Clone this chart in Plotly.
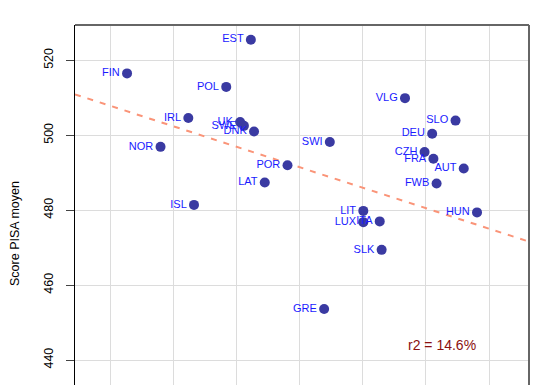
import plotly.graph_objects as go

# Data (x in arbitrary units, grid lines at 1..7)
countries = ["EST", "FIN", "POL", "IRL", "UK", "SWE", "DNK", "NOR", "POR", "LAT",
             "SWI", "VLG", "SLO", "DEU", "CZH", "FRA", "AUT", "FWB", "ISL", "LIT",
             "LUX", "ITA", "SLK", "HUN", "GRE"]
x_vals = [3.23, 1.27, 2.84, 2.24, 3.06, 3.12, 3.28, 1.80, 3.81, 3.45,
          4.48, 5.67, 6.47, 6.10, 5.98, 6.12, 6.60, 6.17, 2.33, 5.01,
          5.01, 5.27, 5.30, 6.81, 4.39]
pisa = [525.5, 516.5, 512.9, 504.6, 503.5, 502.5, 501.0, 496.9, 492.0, 487.4,
        498.2, 509.9, 503.9, 500.4, 495.5, 493.7, 491.1, 487.1, 481.4, 479.8,
        476.8, 477.0, 469.4, 479.4, 453.6]
trend_x = [0.446, 7.633]
trend_y = [510.9, 471.6]
y_ticks = [440, 460, 480, 500, 520]
r2_label = "r2 = 14.6%"
y_title = "Score PISA moyen"

fig = go.Figure()
fig.add_trace(go.Scatter(
    x=trend_x, y=trend_y, mode="lines",
    line=dict(color="#fa9478", width=2, dash="6px,7px"),
    hoverinfo="skip", showlegend=False))
fig.add_trace(go.Scatter(
    x=x_vals, y=pisa, mode="markers+text", text=countries,
    textposition="middle left",
    textfont=dict(family="Liberation Sans, Arial", size=11, color="#1a1aff"),
    marker=dict(color="#3a3aa2", size=10),
    showlegend=False))

fig.update_layout(
    width=552, height=385,
    margin=dict(l=75, r=23, t=25, b=0),
    paper_bgcolor="white", plot_bgcolor="white",
    font=dict(family="Liberation Sans, Arial", size=12, color="black"),
    xaxis=dict(range=[trend_x[0], trend_x[1]], tick0=1, dtick=1,
               showgrid=True, gridcolor="#dcdcdc", gridwidth=1,
               showticklabels=False, ticks="", zeroline=False, showline=False),
    yaxis=dict(range=[433.33, 529.42], tickvals=y_ticks,
               showgrid=True, gridcolor="#dcdcdc", gridwidth=1,
               ticks="outside", ticklen=8, tickcolor="#444", tickangle=-90,
               ticklabelstandoff=8,
               tickfont=dict(size=12.5, color="black"),
               showline=True, linecolor="black", linewidth=1, zeroline=False),
    shapes=[
        dict(type="line", xref="paper", yref="paper", x0=0, x1=1, y0=1, y1=1,
             line=dict(color="#666", width=2)),
        dict(type="line", xref="paper", yref="paper", x0=1, x1=1, y0=0, y1=1,
             line=dict(color="#666", width=2)),
    ],
    annotations=[
        dict(text=r2_label, xref="paper", yref="paper", x=0.728, y=0.11,
             xanchor="left", yanchor="middle", showarrow=False,
             font=dict(size=14, color="#8b1010")),
        dict(text=y_title, xref="paper", yref="paper", x=(15 - 75) / 454, y=0.5 - (234 - 205) / 360,
             xanchor="center", yanchor="middle", textangle=-90, showarrow=False,
             font=dict(size=12.5, color="black")),
    ],
)

fig.write_html("out.html")
